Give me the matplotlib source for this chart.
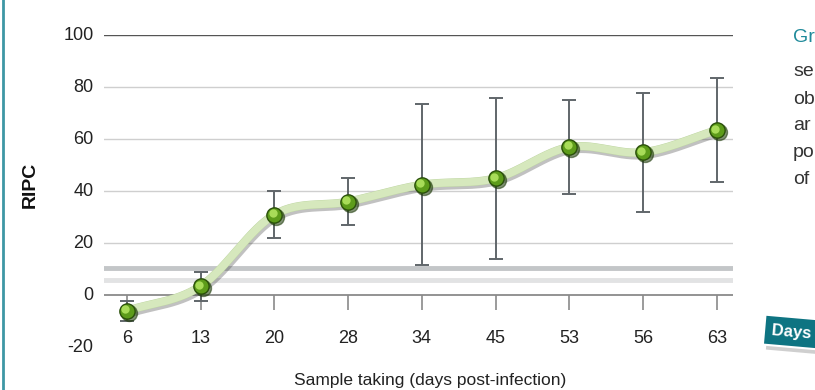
import numpy as np
import matplotlib.pyplot as plt
import matplotlib.patheffects as pe
import matplotlib.transforms as mtransforms
from matplotlib.lines import Line2D

plt.rcParams['font.family'] = ['Liberation Sans', 'DejaVu Sans']

# data
days = ['6', '13', '20', '28', '34', '45', '53', '56', '63']
ripc = [-6, 3.5, 31, 36, 42.5, 45, 57, 55, 63.5]
err = [4, 5.5, 9, 9, 31, 31, 18, 23, 20]
cutoffs = [10.4, 5.9]
yticks = [-20, 0, 20, 40, 60, 80, 100]

fig = plt.figure(figsize=(8.15, 3.9), dpi=100)
ax = fig.add_axes([104 / 815, 1 - 347.3 / 390, 629 / 815, 312 / 390])
ax.set_xlim(-0.31, 8.22)
ax.set_ylim(-20, 100)
ax.axis('off')

# gridlines
for v in yticks[1:]:
    if v == 100:
        ax.axhline(v, color='#555555', lw=1.0, zorder=1)
    elif v == 0:
        ax.axhline(v, color='#8a8a8a', lw=1.3, zorder=1)
    else:
        ax.axhline(v, color='#cfcfcf', lw=1.0, zorder=1)
for v in yticks:
    ax.text(-0.45, v, str(v), ha='right', va='center', fontsize=13, color='#222222')

# cutoff bands
ax.axhline(cutoffs[0], color='#c3c6c8', lw=3.5, zorder=1)
ax.axhline(cutoffs[1], color='#e2e3e4', lw=3.5, zorder=1)

x = np.arange(len(days))
# tick marks below the zero line
ax.vlines(x, -5.8, 0, color='#8a8a8a', lw=1.2, zorder=1)
for xi, d in zip(x, days):
    ax.text(xi, -16.5, d, ha='center', va='center', fontsize=13, color='#222222')

# smooth curve through the points (Catmull-Rom as cubic Bezier)
P = np.column_stack([x, ripc]).astype(float)
ext = np.vstack([P[0] - (P[1] - P[0]), P, P[-1] + (P[-1] - P[-2])])
t = np.linspace(0, 1, 30)[:, None]
curve = []
for i in range(1, len(ext) - 2):
    p0, p1, p2, p3 = ext[i - 1], ext[i], ext[i + 1], ext[i + 2]
    c1 = p1 + (p2 - p0) / 6
    c2 = p2 - (p3 - p1) / 6
    seg = (1 - t) ** 3 * p1 + 3 * (1 - t) ** 2 * t * c1 + 3 * (1 - t) * t ** 2 * c2 + t ** 3 * p2
    curve.append(seg)
curve = np.vstack(curve)
start = P[0] + (P[0] - curve[3]) / np.linalg.norm(P[0] - curve[3]) * 0.27
end = P[-1] + (P[-1] - curve[-4]) / np.linalg.norm(P[-1] - curve[-4]) * 0.33
curve = np.vstack([start, curve, end])

ax.plot(curve[:, 0], curve[:, 1], color='#d6e8bd', lw=5.5, solid_capstyle='butt', zorder=3,
        path_effects=[pe.SimpleLineShadow(offset=(1.2, -2.2), shadow_color='#333333', alpha=0.3),
                      pe.Stroke(linewidth=6, foreground='#bcd4a0'), pe.Normal()])

# error bars
ax.errorbar(x, ripc, yerr=err, fmt='none', ecolor='#60666a', elinewidth=1.4,
            capsize=5, capthick=1.4, zorder=4)

# sphere-like markers
off = lambda dx, dy: ax.transData + mtransforms.ScaledTranslation(dx / 72, dy / 72, fig.dpi_scale_trans)
ax.plot(x, ripc, 'o', ms=11.5, color='#1d3a08', zorder=5, alpha=0.55, transform=off(1.5, -1.5))
ax.plot(x, ripc, 'o', ms=11, mfc='#5d9c1a', mec='#2a500a', mew=1, zorder=6)
ax.plot(x, ripc, 'o', ms=6, mfc='#a8dc58', mec='none', zorder=7, transform=off(-1.2, 1.2))

# axis titles
fig.text(30 / 815, 1 - 185 / 390, 'RIPC', rotation=90, ha='center', va='center',
         fontsize=14, fontweight='bold', color='#111111')
fig.text(430 / 815, 1 - 380 / 390, 'Sample taking (days post-infection)', ha='center', va='center',
         fontsize=12.5, color='#222222')

# cropped side text
side = [('Gr', 38, '#1f8a9a'), ('se', 72, '#333333'), ('ob', 99, '#333333'),
        ('ar', 126, '#333333'), ('po', 153, '#333333'), ('of', 180, '#333333')]
for s, yy, c in side:
    fig.text(793 / 815, 1 - yy / 390, s, ha='left', va='center', fontsize=14, color=c)

# teal label box, slightly tilted, with shadow
fig.text(774 / 815, 1 - 338 / 390, 'Days     ', ha='left', va='center', fontsize=12, fontweight='bold',
         color='#888888', rotation=-5, alpha=0.5,
         bbox=dict(boxstyle='square,pad=0.45', fc='#777777', ec='none', alpha=0.35))
fig.text(771 / 815, 1 - 333 / 390, 'Days     ', ha='left', va='center', fontsize=12, fontweight='bold',
         color='white', rotation=-5,
         bbox=dict(boxstyle='square,pad=0.45', fc='#0e7482', ec='white', lw=1.5))

# left border
fig.add_artist(Line2D([3 / 815, 3 / 815], [0, 1], transform=fig.transFigure, color='#3e97a5', lw=2))

fig.savefig('out.png', dpi=100)
